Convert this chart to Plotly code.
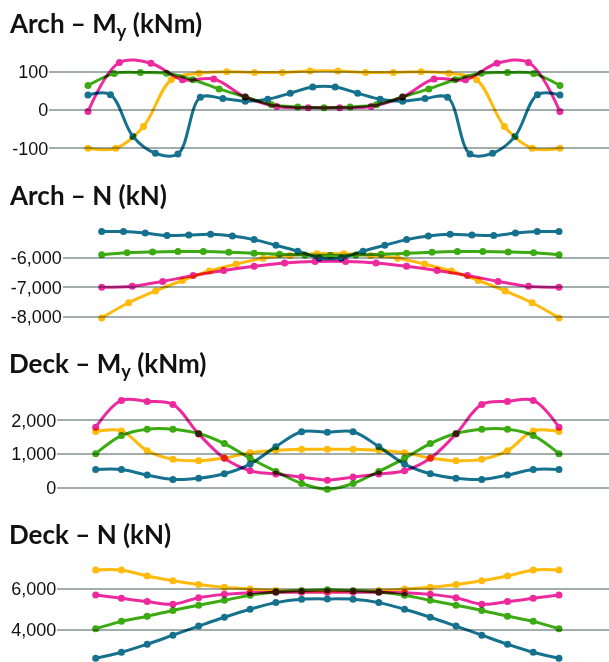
import plotly.graph_objects as go

# ---------------- data ----------------
titles = ["Arch – M<sub>y</sub> (kNm)", "Arch – N (kN)", "Deck – M<sub>y</sub> (kNm)", "Deck – N (kN)"]
series_names = ["yellow", "pink", "green", "blue"]
colors = {"yellow": "#FFBA0C", "pink": "#EC2A9E", "green": "#3CAA12", "blue": "#15718E"}

# Arch - My
arch_my_yellow = [-100, -100, -43, 79, 96, 100, 98, 98, 102, 102, 98, 98, 100, 96, 79, -43, -100, -100]
arch_my_pink = [-4, 124, 122, 79, 81, 34, 9, 6, 6, 9, 34, 81, 79, 122, 124, -4]
arch_my_green = [64, 95, 98, 96, 79, 55, 34, 14, 8, 6, 8, 14, 34, 55, 79, 96, 98, 95, 64]
arch_my_blue = [39, 40, -69, -113, -115, 33, 30, 23, 28, 44, 60, 60, 44, 28, 23, 30, 33, -115, -113, -69, 40, 39]

# Arch - N
arch_n_yellow = [-8030, -7520, -7120, -6770, -6450, -6215, -6020, -5925, -5865, -5865, -5925, -6020, -6215, -6450, -6770, -7120, -7520, -8030]
arch_n_pink = [-7000, -6965, -6800, -6600, -6430, -6290, -6180, -6130, -6130, -6180, -6290, -6430, -6600, -6800, -6965, -7000]
arch_n_green = [-5900, -5830, -5805, -5795, -5795, -5815, -5850, -5885, -5910, -5925, -5910, -5885, -5850, -5815, -5795, -5795, -5805, -5830, -5900]
arch_n_blue = [-5115, -5120, -5170, -5250, -5235, -5210, -5265, -5390, -5580, -5780, -6010, -6010, -5780, -5580, -5390, -5265, -5210, -5235, -5250, -5170, -5120, -5115]

# Deck - My
deck_my_yellow = [1670, 1690, 1100, 840, 800, 880, 1040, 1110, 1140, 1140, 1140, 1110, 1040, 880, 800, 840, 1100, 1690, 1670]
deck_my_pink = [1800, 2600, 2570, 2480, 1600, 870, 500, 400, 310, 220, 310, 400, 500, 870, 1600, 2480, 2570, 2600, 1800]
deck_my_green = [1010, 1550, 1740, 1740, 1610, 1310, 870, 480, 120, -50, 120, 480, 870, 1310, 1610, 1740, 1740, 1550, 1010]
deck_my_blue = [540, 540, 370, 240, 275, 410, 700, 1220, 1665, 1650, 1665, 1220, 700, 410, 275, 240, 370, 540, 540]

# Deck - N
deck_n_yellow = [6900, 6900, 6610, 6380, 6200, 6070, 5980, 5910, 5890, 5890, 5890, 5910, 5980, 6070, 6200, 6380, 6610, 6900, 6900]
deck_n_pink = [5690, 5530, 5370, 5240, 5560, 5720, 5800, 5820, 5820, 5820, 5820, 5820, 5800, 5720, 5560, 5240, 5370, 5530, 5690]
deck_n_green = [4050, 4410, 4660, 4940, 5190, 5430, 5680, 5830, 5900, 5940, 5900, 5830, 5680, 5430, 5190, 4940, 4660, 4410, 4050]
deck_n_blue = [2620, 2910, 3300, 3740, 4180, 4610, 5000, 5320, 5480, 5500, 5480, 5320, 5000, 4610, 4180, 3740, 3300, 2910, 2620]

tickvals = [[-100, 0, 100], [-8000, -7000, -6000], [0, 1000, 2000], [4000, 6000]]
ticktext = [["-100", "0", "100"], ["-8,000", "-7,000", "-6,000"], ["0", "1,000", "2,000"], ["4,000", "6,000"]]

panels = [
    {"yellow": arch_my_yellow, "pink": arch_my_pink, "green": arch_my_green, "blue": arch_my_blue},
    {"yellow": arch_n_yellow, "pink": arch_n_pink, "green": arch_n_green, "blue": arch_n_blue},
    {"yellow": deck_my_yellow, "pink": deck_my_pink, "green": deck_my_green, "blue": deck_my_blue},
    {"yellow": deck_n_yellow, "pink": deck_n_pink, "green": deck_n_green, "blue": deck_n_blue},
]

# ---------------- layout geometry (pixels) ----------------
W, H = 609, 662
x_left_px = [49.3, 62.7, 57.3, 57.3]          # grid start
y_band_px = [(55, 165), (220, 330), (390, 500), (555, 662)]
y_ranges = [[-143.6, 143.6], [-8438, -4729], [-373, 2910], [2437, 7631]]
x_ranges = [[-0.082, 1.104], [-0.0853, 1.1093], [-0.0829, 1.108], [-0.0829, 1.108]]
title_mid_px = [24, 195, 364, 534]

fig = go.Figure()
for i, p in enumerate(panels):
    xa = "x" if i == 0 else f"x{i+1}"
    ya = "y" if i == 0 else f"y{i+1}"
    for name in ["blue", "green", "yellow", "pink"]:
        vals = p[name]
        n = len(vals)
        xs = [k / (n - 1) for k in range(n)]
        fig.add_trace(go.Scatter(
            x=xs, y=vals, mode="lines+markers", xaxis=xa, yaxis=ya,
            line=dict(color=colors[name], width=3, shape="spline", smoothing=1),
            marker=dict(color=colors[name], size=7),
            cliponaxis=False, showlegend=False, hoverinfo="skip",
        ))
    top, bot = y_band_px[i]
    xkey = "xaxis" if i == 0 else f"xaxis{i+1}"
    ykey = "yaxis" if i == 0 else f"yaxis{i+1}"
    fig.update_layout(**{
        xkey: dict(domain=[x_left_px[i] / W, 1], range=x_ranges[i], visible=False,
                   anchor=ya),
        ykey: dict(domain=[1 - bot / H, 1 - top / H], range=y_ranges[i], anchor=xa,
                   tickvals=tickvals[i], ticktext=ticktext[i], showgrid=True,
                   gridcolor="#A2AEAE", gridwidth=2, zeroline=False, showline=False,
                   ticks="", tickfont=dict(family="Arial", size=18, color="#111111")),
    })
    fig.add_annotation(text=f"<b>{titles[i]}</b>", xref="paper", yref="paper",
                       x=7 / W, y=1 - title_mid_px[i] / H, xanchor="left", yanchor="middle",
                       showarrow=False, font=dict(family="Lato", size=26, color="#111111"))

fig.update_layout(width=W, height=H, margin=dict(l=0, r=0, t=0, b=0), autosize=False,
                  paper_bgcolor="white", plot_bgcolor="white")

post = """
var gd = document.getElementById('{plot_id}');
function mb(){ var ts = gd.querySelectorAll('.scatterlayer .trace'); for (var i=0;i<ts.length;i++){ ts[i].style.mixBlendMode='multiply'; } }
mb();
if (gd.on) { gd.on('plotly_afterplot', mb); }
"""
fig.write_html("out.html", post_script=post, config={"displayModeBar": False})
